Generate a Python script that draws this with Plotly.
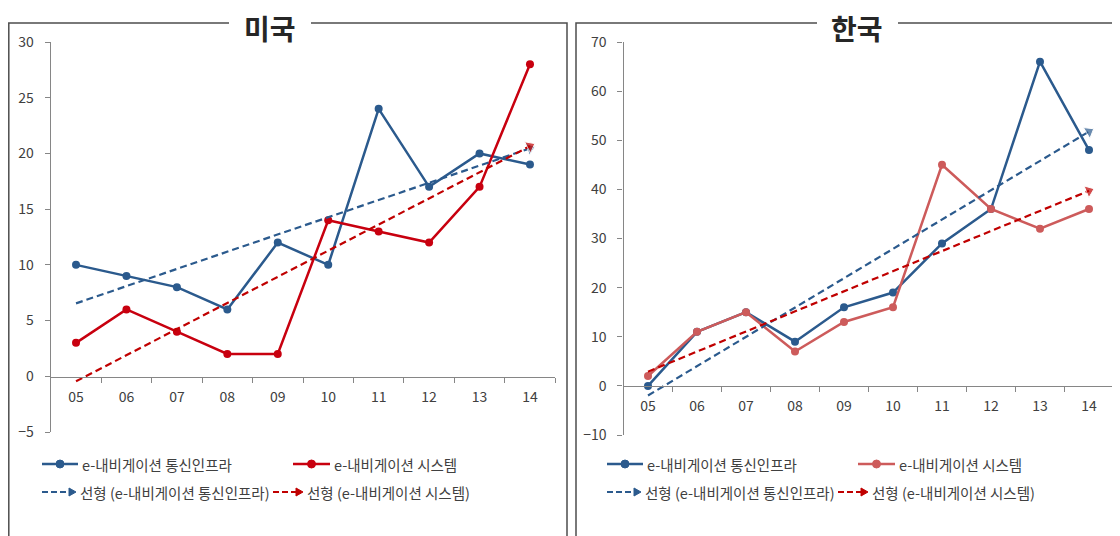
import numpy as np
import plotly.graph_objects as go

# ---------------- data ----------------
years = ["05", "06", "07", "08", "09", "10", "11", "12", "13", "14"]
us_infra = [10, 9, 8, 6, 12, 10, 24, 17, 20, 19]
us_system = [3, 6, 4, 2, 2, 14, 13, 12, 17, 28]
kr_infra = [0, 11, 15, 9, 16, 19, 29, 36, 66, 48]
kr_system = [2, 11, 15, 7, 13, 16, 45, 36, 32, 36]

name_infra = "e-내비게이션 통신인프라"
name_system = "e-내비게이션 시스템"
name_tr_infra = "선형 (e-내비게이션 통신인프라)"
name_tr_system = "선형 (e-내비게이션 시스템)"
titles = ["미국", "한국"]

# ---------------- style ----------------
# the page places the figure 8px from the top-left corner of the window
OFF = 8
WF, HF = 1120 - OFF, 536 - OFF
FONT = "Noto Sans CJK KR"
BLUE = "#2B5A8D"
RED_US = "#C8000F"
RED_KR = "#CD5B5B"
RED_TR = "#C00000"
AX = "#868686"
TXT = "#404040"


def px(x):
    return (x - OFF) / WF


def py(y):
    return 1 - (y - OFF) / HF


def trend(vals):
    xs = np.arange(len(vals))
    k, b = np.polyfit(xs, np.array(vals, dtype=float), 1)
    return [b, k * (len(vals) - 1) + b]


fig = go.Figure()


def add_panel(xa, ya, infra, system, red_series):
    fig.add_trace(go.Scatter(x=years, y=infra, mode="lines+markers", xaxis=xa, yaxis=ya,
                             line=dict(color=BLUE, width=2.5), marker=dict(size=8, color=BLUE),
                             showlegend=False, name=name_infra))
    fig.add_trace(go.Scatter(x=years, y=system, mode="lines+markers", xaxis=xa, yaxis=ya,
                             line=dict(color=red_series, width=2.5), marker=dict(size=8, color=red_series),
                             showlegend=False, name=name_system))
    for vals, col, nm in [(infra, BLUE, name_tr_infra), (system, RED_TR, name_tr_system)]:
        fig.add_trace(go.Scatter(x=[years[0], years[-1]], y=trend(vals), mode="lines+markers",
                                 xaxis=xa, yaxis=ya,
                                 line=dict(color=col, width=2.2, dash="7px,4px"),
                                 marker=dict(size=[0, 11], color=col, symbol="triangle-up",
                                             angleref="previous"),
                                 showlegend=False, name=nm))


add_panel("x", "y", us_infra, us_system, RED_US)
add_panel("x2", "y2", kr_infra, kr_system, RED_KR)

tickfont = dict(family=FONT, size=14, color=TXT)
xcommon = dict(type="category", range=[-0.5, 9.5], tickson="boundaries", ticks="outside",
               ticklen=5, tickcolor=AX, showline=True, linecolor=AX, linewidth=1.2,
               showgrid=False, zeroline=False, tickfont=tickfont, anchor="free",
               ticklabelstandoff=7, automargin=False)
ycommon = dict(ticks="outside", ticklen=5, tickcolor=AX, showline=True, linecolor=AX,
               linewidth=1.2, showgrid=False, zeroline=False, tickfont=tickfont,
               ticklabelstandoff=8, automargin=False)

fig.update_layout(
    width=WF, height=HF, margin=dict(l=0, r=0, t=0, b=0, pad=0, autoexpand=False),
    paper_bgcolor="white", plot_bgcolor="white", showlegend=False,
    xaxis=dict(xcommon, domain=[px(50.8), px(555.2)], position=py(377)),
    yaxis=dict(ycommon, domain=[py(432), py(42)], range=[-5, 30], dtick=5, anchor="x"),
    xaxis2=dict(xcommon, domain=[px(623.5), px(1113.5)], position=py(386)),
    yaxis2=dict(ycommon, domain=[py(435), py(42)], range=[-10, 70], dtick=10, anchor="x2"),
)

shapes = []
border = dict(color="#4D4D4D", width=1.5)


def path(pts_list):
    s = ""
    for pts in pts_list:
        s += "M " + " L ".join(f"{px(x)},{py(y)}" for x, y in pts) + " "
    return s


shapes.append(dict(type="path", xref="paper", yref="paper", line=border,
                   path=path([[(8.8, 540), (8.8, 23), (229, 23)], [(311, 23), (567, 23), (567, 540)]])))
shapes.append(dict(type="path", xref="paper", yref="paper", line=border,
                   path=path([[(576, 540), (576, 23), (817, 23)], [(898, 23), (1125, 23)]])))

annotations = []
for t, cx in zip(titles, [270, 857]):
    annotations.append(dict(text=f"<b>{t}</b>", x=px(cx), y=py(28), xref="paper", yref="paper",
                            showarrow=False, xanchor="center", yanchor="middle", borderpad=0,
                            font=dict(family=FONT, size=28, color="#262626")))


def leg_line(x0, x1, y, col):
    shapes.append(dict(type="line", xref="paper", yref="paper", x0=px(x0), x1=px(x1),
                       y0=py(y), y1=py(y), line=dict(color=col, width=2.5)))
    cx = (x0 + x1) / 2
    shapes.append(dict(type="circle", xref="paper", yref="paper", x0=px(cx - 4), x1=px(cx + 4),
                       y0=py(y + 4), y1=py(y - 4), fillcolor=col, line=dict(color=col, width=1)))


def leg_dash(x0, x1, y, col):
    shapes.append(dict(type="line", xref="paper", yref="paper", x0=px(x0), x1=px(x1 - 6),
                       y0=py(y), y1=py(y), line=dict(color=col, width=2.2, dash="6px,3px")))
    shapes.append(dict(type="path", xref="paper", yref="paper", fillcolor=col, line=dict(color=col, width=1),
                       path=f"M {px(x1-7)},{py(y-4)} L {px(x1)},{py(y)} L {px(x1-7)},{py(y+4)} Z"))


def leg_text(x, y, s):
    annotations.append(dict(text=s, x=px(x), y=py(y), xref="paper", yref="paper", showarrow=False,
                            xanchor="left", yanchor="middle",
                            font=dict(family=FONT, size=14.5, color=TXT)))


for off, red in [(0, RED_US), (565, RED_KR)]:
    leg_line(42 + off, 78 + off, 464, BLUE)
    leg_text(80 + off, 464, name_infra)
    leg_line(293 + off, 330 + off, 464, red)
    leg_text(332 + off, 464, name_system)
    leg_dash(42 + off, 76 + off, 492, BLUE)
    leg_text(78 + off, 492, name_tr_infra)
    leg_dash(273 + off, 303 + off, 492, RED_TR)
    leg_text(305 + off, 492, name_tr_system)

fig.update_layout(shapes=shapes, annotations=annotations)
fig.write_html("out.html")
